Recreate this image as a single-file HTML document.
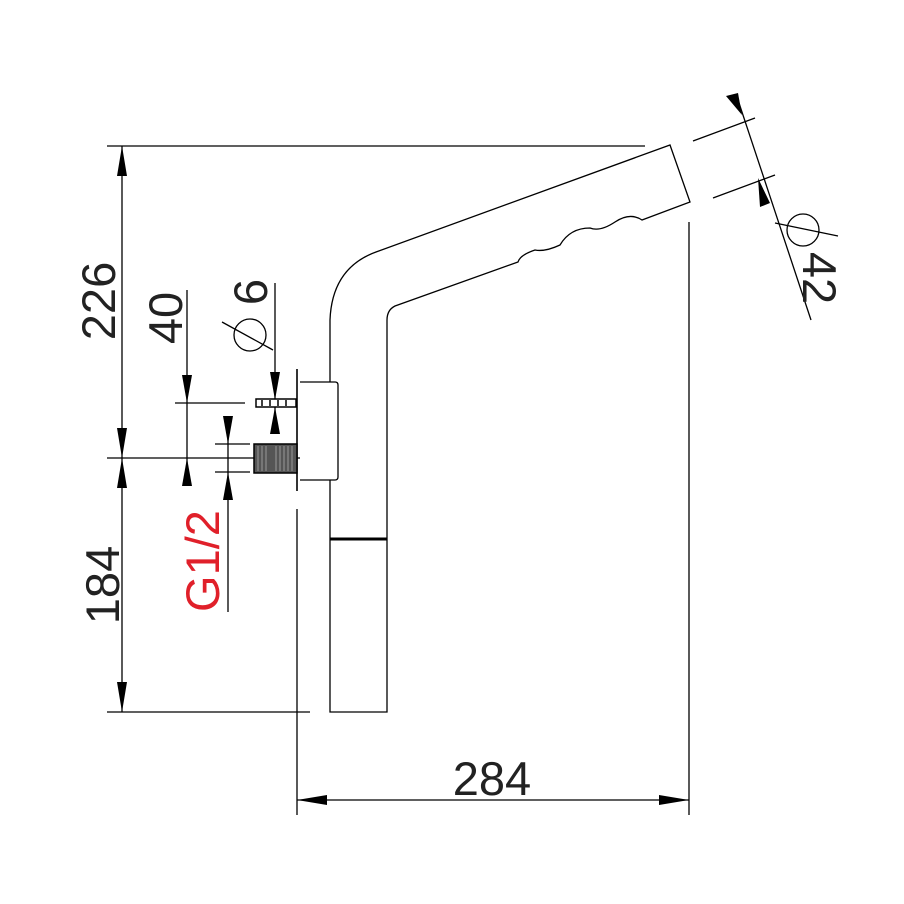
<!DOCTYPE html>
<html><head><style>body{margin:0;background:#fff}svg{display:block}</style></head><body>
<svg width="904" height="904" viewBox="0 0 904 904" xmlns="http://www.w3.org/2000/svg" font-family="Liberation Sans, sans-serif">
<g fill="none" stroke="#000" stroke-width="1.3">
<path d="M330,382 L330,320 Q332,268 376,252 L670,145 L690,202 L642,220 Q630,212 615,222 Q600,232 590,228 Q570,228 560,245 Q545,252 535,250 Q520,255 518,262 L395,306 Q387,310 387,320 L387,712 L330,712 L330,480"/>
<line x1="330" y1="539" x2="387" y2="539" stroke-width="3"/>
<line x1="297" y1="369" x2="297" y2="491" stroke-width="1.6"/>
<path d="M300,382 L335,382 Q338,382 338,385 L338,477 Q338,480 335,480 L300,480"/>
<line x1="297" y1="509" x2="297" y2="815"/>
<line x1="107" y1="146" x2="645" y2="146"/>
<line x1="107" y1="712" x2="310" y2="712"/>
<line x1="107" y1="458" x2="300" y2="458"/>
<line x1="122" y1="146" x2="122" y2="712"/>
<line x1="175" y1="403" x2="245" y2="403"/>
<line x1="187" y1="290" x2="187" y2="470"/>
<line x1="275" y1="283" x2="275" y2="430"/>
<line x1="215" y1="444" x2="250" y2="444"/>
<line x1="215" y1="472" x2="250" y2="472"/>
<line x1="228" y1="416" x2="228" y2="612"/>
<line x1="689" y1="222" x2="689" y2="815"/>
<line x1="297" y1="800" x2="689" y2="800"/>
<line x1="693" y1="141" x2="755" y2="118"/>
<line x1="713" y1="198" x2="775" y2="175"/>
<line x1="736" y1="94" x2="811" y2="320"/>
<circle cx="803" cy="230" r="16"/>
<line x1="775" y1="223" x2="838" y2="236"/>
<circle cx="250" cy="335" r="16"/>
<line x1="222" y1="322" x2="273" y2="350"/>
</g>
<rect x="256" y="399" width="40" height="8" fill="#fff" stroke="#000" stroke-width="1.5"/>
<g stroke="#000" stroke-width="1.5"><line x1="262" y1="400" x2="262" y2="406"/><line x1="270" y1="400" x2="270" y2="406"/><line x1="278" y1="400" x2="278" y2="406"/><line x1="286" y1="400" x2="286" y2="406"/></g>
<rect x="254" y="444" width="43" height="29" fill="#555" stroke="#000" stroke-width="1.5"/>
<g stroke="#999" stroke-width="1"><line x1="258" y1="446" x2="258" y2="471"/><line x1="262" y1="446" x2="262" y2="471"/><line x1="266" y1="446" x2="266" y2="471"/><line x1="276" y1="446" x2="276" y2="471"/><line x1="280" y1="446" x2="280" y2="471"/><line x1="284" y1="446" x2="284" y2="471"/><line x1="288" y1="446" x2="288" y2="471"/><line x1="292" y1="446" x2="292" y2="471"/></g>
<g fill="#000">
<polygon points="122,146 117,176 127,176"/>
<polygon points="122,458 117,428 127,428"/>
<polygon points="122,458 117,488 127,488"/>
<polygon points="122,712 117,682 127,682"/>
<polygon points="187,403 182,375 192,375"/>
<polygon points="187,458 182,486 192,486"/>
<polygon points="275,400 270,372 280,372"/>
<polygon points="275,407 270,434 280,434"/>
<polygon points="228,444 223,416 233,416"/>
<polygon points="228,472 223,500 233,500"/>
<polygon points="297,800 327,795 327,805"/>
<polygon points="689,800 659,795 659,805"/>
<polygon points="742,115 726,96 738,93"/>
<polygon points="758,178 760,207 770,203"/>
</g>
<g font-size="47" fill="#222">
<text transform="translate(115,301) rotate(-90)" text-anchor="middle">226</text>
<text transform="translate(119,585) rotate(-90)" text-anchor="middle">184</text>
<text transform="translate(182,318) rotate(-90)" text-anchor="middle">40</text>
<text transform="translate(267,292) rotate(-90)" text-anchor="middle">6</text>
<text transform="translate(803,278) rotate(90)" text-anchor="middle">42</text>
<text x="492" y="795" text-anchor="middle">284</text>
<text transform="translate(219,561) rotate(-90)" text-anchor="middle" fill="#e0202a">G1/2</text>
</g>
</svg>
</body></html>
